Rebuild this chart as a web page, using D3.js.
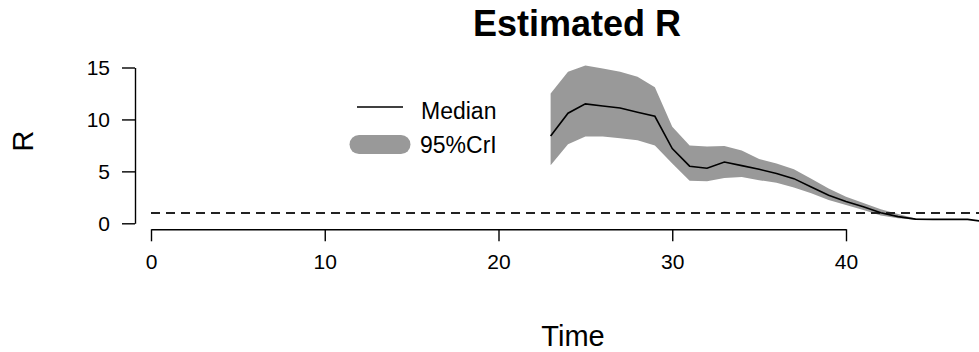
<!DOCTYPE html>
<html>
<head>
<meta charset="utf-8">
<script src="https://cdn.jsdelivr.net/npm/d3@7"></script>
<style>
  html, body { margin: 0; padding: 0; background: #fff; }
  svg { display: block; font-family: "Liberation Sans", Arial, sans-serif; }
</style>
</head>
<body>
<svg id="chart" width="979" height="352"></svg>
<script>
// Estimated reproduction number over time: posterior median and 95% credible interval
const times  = [23, 24, 25, 26, 27, 28, 29, 30, 31, 32, 33, 34, 35, 36, 37, 38, 39, 40, 41, 42, 43, 44, 45, 46, 47, 48];
const median = [8.4, 10.6, 11.5, 11.3, 11.1, 10.7, 10.3, 7.2, 5.5, 5.3, 5.9, 5.55, 5.2, 4.8, 4.3, 3.5, 2.7, 2.1, 1.6, 1.02, 0.64, 0.4, 0.38, 0.38, 0.38, 0.15];
const lower  = [5.6, 7.6, 8.35, 8.35, 8.2, 8.0, 7.5, 5.75, 4.1, 4.05, 4.35, 4.45, 4.15, 3.9, 3.45, 2.9, 2.25, 1.75, 1.28, 0.75, 0.48, 0.34, 0.37, null, null, null];
const upper  = [12.5, 14.6, 15.2, 14.9, 14.6, 14.1, 13.1, 9.3, 7.5, 7.4, 7.45, 7.0, 6.2, 5.75, 5.2, 4.3, 3.35, 2.55, 1.95, 1.35, 0.9, 0.47, 0.39, null, null, null];
const xTicks = [0, 10, 20, 30, 40];
const yTicks = [0, 5, 10, 15];
const threshold = 1;

const svg = d3.select("#chart");
const x = d3.scaleLinear().domain([0, 40]).range([151, 846]);
const y = d3.scaleLinear().domain([0, 15]).range([223.3, 67.5]);

const rows = times.map((t, i) => ({ t, m: median[i], lo: lower[i], hi: upper[i] }));

// credible-interval band
svg.append("path")
  .datum(rows.filter(d => d.lo != null))
  .attr("fill", "#999999")
  .attr("d", d3.area().x(d => x(d.t)).y0(d => y(d.lo)).y1(d => y(d.hi)));

// R = 1 reference line
svg.append("line")
  .attr("x1", x(0)).attr("x2", 979)
  .attr("y1", y(threshold)).attr("y2", y(threshold))
  .attr("stroke", "#222").attr("stroke-width", 2)
  .attr("stroke-dasharray", "9,6");

// median
svg.append("path")
  .datum(rows)
  .attr("fill", "none").attr("stroke", "#000").attr("stroke-width", 1.6)
  .attr("d", d3.line().x(d => x(d.t)).y(d => y(d.m)));

// axes
const xAxis = svg.append("g").attr("transform", "translate(0,229.3)")
  .call(d3.axisBottom(x).tickValues(xTicks).tickFormat(d3.format("d")).tickSize(12).tickSizeOuter(0).tickPadding(13));
const yAxis = svg.append("g").attr("transform", "translate(135,0)")
  .call(d3.axisLeft(y).tickValues(yTicks).tickFormat(d3.format("d")).tickSize(13).tickSizeOuter(0).tickPadding(12));
[xAxis, yAxis].forEach(g => {
  g.selectAll("path, line").attr("stroke", "#000").attr("stroke-width", 1.4);
  g.selectAll("text").attr("fill", "#000").style("font-size", "21px")
    .style("font-family", "'Liberation Sans', Arial, sans-serif");
});

// titles
svg.append("text").attr("x", 577).attr("y", 36).attr("text-anchor", "middle")
  .style("font-size", "36px").style("font-weight", "bold").text("Estimated R");
svg.append("text").attr("x", 573).attr("y", 346).attr("text-anchor", "middle")
  .style("font-size", "29px").text("Time");
svg.append("text").attr("transform", "translate(33,141) rotate(-90)").attr("text-anchor", "middle")
  .style("font-size", "29px").text("R");

// legend
const legend = svg.append("g");
legend.append("line").attr("x1", 357).attr("x2", 403).attr("y1", 107).attr("y2", 107)
  .attr("stroke", "#000").attr("stroke-width", 1.6);
legend.append("line").attr("x1", 359).attr("x2", 401).attr("y1", 144.5).attr("y2", 144.5)
  .attr("stroke", "#999999").attr("stroke-width", 19).attr("stroke-linecap", "round");
legend.append("text").attr("x", 421).attr("y", 119).style("font-size", "23px").text("Median");
legend.append("text").attr("x", 420).attr("y", 153).style("font-size", "23px").text("95%CrI");
</script>
</body>
</html>
